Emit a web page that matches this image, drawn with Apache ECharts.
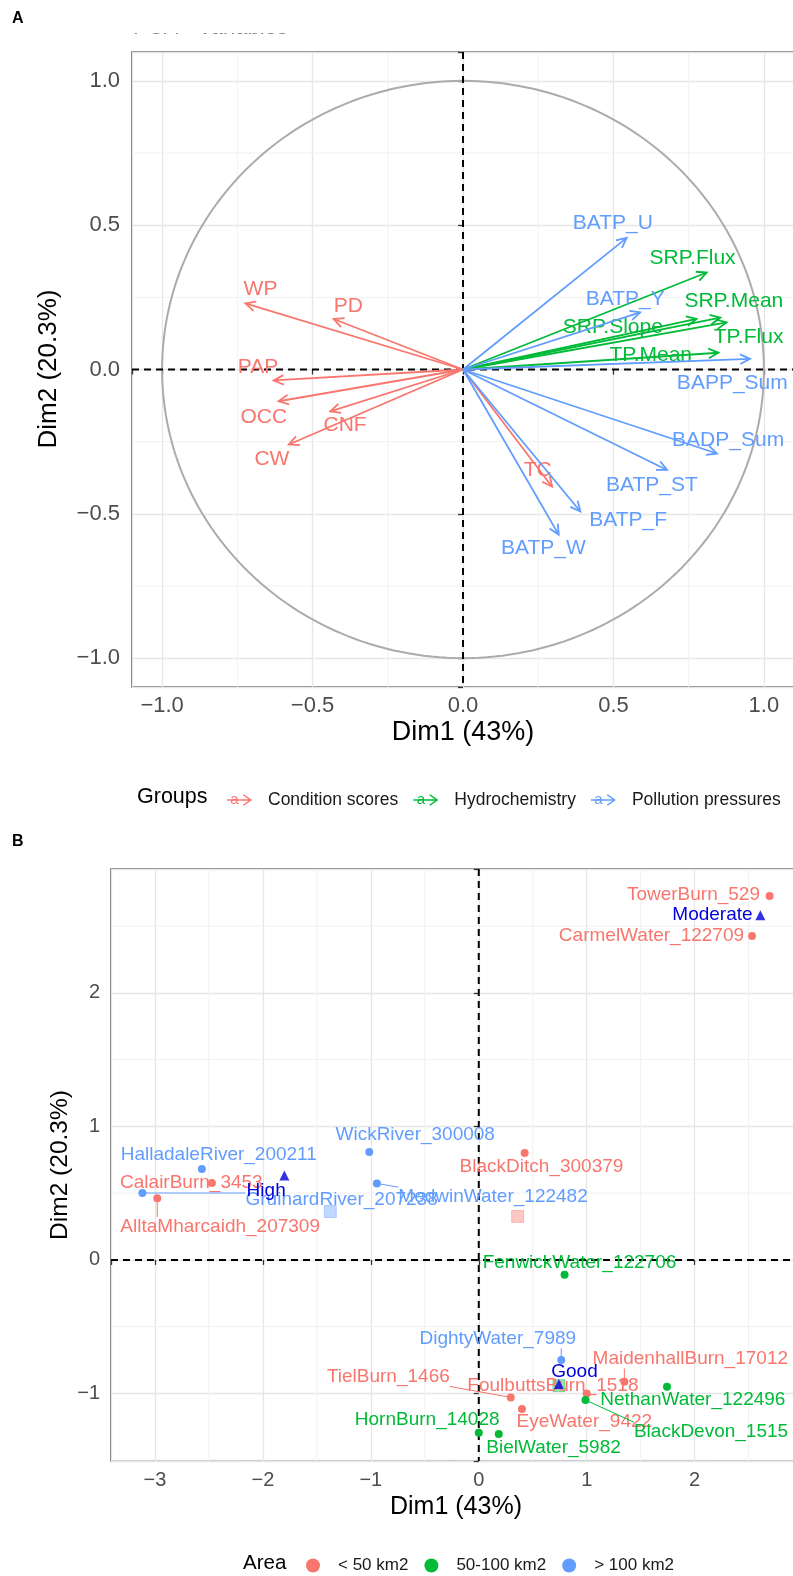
<!DOCTYPE html>
<html>
<head>
<meta charset="utf-8">
<title>PCA biplots</title>
<script src="https://cdn.jsdelivr.net/npm/echarts@6/dist/echarts.min.js"></script>
<style>
  html, body { margin: 0; padding: 0; background: #fff; }
  #chart { width: 793px; height: 1576px; }
</style>
</head>
<body>
<div id="chart"></div>
<script>
// ---------- panel A : variables ----------
var groupNames = ['Condition scores', 'Hydrochemistry', 'Pollution pressures'];
var varNames = ['WP', 'PD', 'PAP', 'OCC', 'CNF', 'CW', 'TC',
                'SRP.Flux', 'SRP.Mean', 'SRP.Slope', 'TP.Flux', 'TP.Mean',
                'BATP_U', 'BATP_Y', 'BAPP_Sum', 'BADP_Sum', 'BATP_ST', 'BATP_F', 'BATP_W'];
var varGroup = [0, 0, 0, 0, 0, 0, 0, 1, 1, 1, 1, 1, 2, 2, 2, 2, 2, 2, 2];
var varDim1 = [-0.723, -0.43, -0.629, -0.613, -0.441, -0.579, 0.296,
               0.81, 0.855, 0.776, 0.876, 0.849,
               0.544, 0.589, 0.954, 0.844, 0.678, 0.39, 0.318];
var varDim2 = [0.229, 0.175, -0.038, -0.11, -0.145, -0.26, -0.406,
               0.336, 0.18, 0.175, 0.163, 0.058,
               0.456, 0.198, 0.037, -0.291, -0.348, -0.492, -0.572];
// where the repelled labels sit, in axis units
var varLabDim1 = [-0.673, -0.381, -0.681, -0.662, -0.392, -0.635, 0.248,
                  0.763, 0.9, 0.498, 0.949, 0.624,
                  0.498, 0.539, 0.895, 0.881, 0.628, 0.549, 0.267];
var varLabDim2 = [0.278, 0.221, 0.008, -0.164, -0.193, -0.311, -0.348,
                  0.387, 0.238, 0.146, 0.111, 0.048,
                  0.508, 0.244, -0.048, -0.245, -0.4, -0.521, -0.618];

// ---------- panel B : sites ----------
var areaNames = ['< 50 km2', '50-100 km2', '> 100 km2'];
var siteNames = ['TowerBurn_529', 'CarmelWater_122709', 'CalairBurn_3453', 'AlltaMharcaidh_207309',
                 'BlackDitch_300379', 'TielBurn_1466', 'FoulbuttsBurn_1518', 'EyeWater_9422', 'MaidenhallBurn_17012',
                 'FenwickWater_122706', 'NethanWater_122496', 'BlackDevon_1515', 'HornBurn_14028', 'BielWater_5982',
                 'HalladaleRiver_200211', 'GruinardRiver_207238', 'WickRiver_300008', 'MedwinWater_122482', 'DightyWater_7989'];
var siteArea = [0, 0, 0, 0, 0, 0, 0, 0, 0, 1, 1, 1, 1, 1, 2, 2, 2, 2, 2];
var siteDim1 = [2.695, 2.532, -2.473, -2.979, 0.425, 0.296, 1.0, 0.40, 1.349,
                0.795, 1.744, 0.989, 0.0, 0.185,
                -2.566, -3.117, -1.015, -0.944, 0.764];
var siteDim2 = [2.727, 2.426, 0.576, 0.461, 0.80, -1.03, -1.0, -1.117, -0.912,
                -0.112, -0.95, -1.05, -1.295, -1.305,
                0.681, 0.501, 0.808, 0.573, -0.75];
var siteLabDim1 = [1.989, 1.60, -2.663, -2.396, 0.581, -0.838, 0.687, 0.978, 1.96,
                   0.933, 1.983, 2.152, -0.478, 0.693,
                   -2.409, -1.271, -0.589, 0.132, 0.176];
var siteLabDim2 = [2.736, 2.429, 0.579, 0.25, 0.695, -0.877, -0.945, -1.212, -0.742,
                   -0.022, -1.05, -1.287, -1.199, -1.409,
                   0.787, 0.45, 0.937, 0.474, -0.592];

var qualNames = ['High', 'Moderate', 'Good'];
var qualDim1 = [-1.801, 2.609, 0.742];
var qualDim2 = [0.633, 2.583, -0.93];
var qualLabDim1 = [-1.97, 2.165, 0.887];
var qualLabDim2 = [0.517, 2.586, -0.837];

var colors = ['#F8766D', '#00BA38', '#619CFF'];
var QUAL = '#0000DD';
var FONT = '"Liberation Sans", Arial, Helvetica, sans-serif';

var measureCtx = document.createElement('canvas').getContext('2d');
function textWidth(txt, size) {
  measureCtx.font = size + 'px ' + FONT;
  return measureCtx.measureText(txt).width;
}

// ggplot-like 5% expansion
function expand(lo, hi) {
  var d = (hi - lo) * 0.05;
  return [lo - d, hi + d];
}
var xA = expand(-1, 1), yA = expand(-1, 1);
var xB = expand(Math.min.apply(null, siteDim1), Math.max.apply(null, siteDim1));
var yB = expand(Math.min.apply(null, siteDim2), Math.max.apply(null, siteDim2));

function halfSteps(range, step) {
  var out = [];
  for (var k = Math.floor(range[0] / step) - 1; k * step < range[1] + step; k++) {
    var v = k * step + step / 2;
    if (v > range[0] && v < range[1]) out.push(v);
  }
  return out;
}

function groupMean(vals, g) {
  var s = 0, n = 0;
  siteArea.forEach(function (a, i) { if (a === g) { s += vals[i]; n++; } });
  return s / n;
}

function tickFmt(step, digits) {
  return function (v) {
    var r = v / step;
    if (Math.abs(r - Math.round(r)) > 1e-6) return '';
    return (v < -1e-9 ? '\u2212' : '') + Math.abs(v).toFixed(digits);
  };
}

function valueAxis(gi, range, splitNumber, fmt, size, margin) {
  return {
    type: 'value', gridIndex: gi, min: range[0], max: range[1], splitNumber: splitNumber,
    axisLine: { show: false },
    axisTick: { show: true, length: 5, lineStyle: { color: '#333', width: 1.3 } },
    axisLabel: { color: '#4d4d4d', fontSize: size, fontFamily: FONT, margin: margin, formatter: fmt },
    splitLine: { show: true, lineStyle: { color: '#e6e6e6', width: 1.3 } }
  };
}

// background guides: minor grid, dashed zero lines, optional unit circle
function frameItem(xr, yr, step, circle) {
  return function (params, api) {
    var cs = params.coordSys;
    var kids = [];
    halfSteps(xr, step).forEach(function (v) {
      var p = api.coord([v, 0]);
      kids.push({ type: 'line', shape: { x1: p[0], y1: cs.y, x2: p[0], y2: cs.y + cs.height },
                  style: { stroke: '#f1f1f1', lineWidth: 1 } });
    });
    halfSteps(yr, step).forEach(function (v) {
      var p = api.coord([0, v]);
      kids.push({ type: 'line', shape: { x1: cs.x, y1: p[1], x2: cs.x + cs.width, y2: p[1] },
                  style: { stroke: '#f1f1f1', lineWidth: 1 } });
    });
    if (circle) {
      var pts = [];
      for (var k = 0; k <= 240; k++) {
        var t = k / 240 * Math.PI * 2;
        pts.push(api.coord([Math.cos(t), Math.sin(t)]));
      }
      kids.push({ type: 'polyline', shape: { points: pts }, style: { stroke: '#ababab', lineWidth: 2, fill: 'none' } });
    }
    var o = api.coord([0, 0]);
    kids.push({ type: 'line', shape: { x1: o[0], y1: cs.y, x2: o[0], y2: cs.y + cs.height },
                style: { stroke: '#000', lineWidth: 2, lineDash: [7, 5] } });
    kids.push({ type: 'line', shape: { x1: cs.x, y1: o[1], x2: cs.x + cs.width, y2: o[1] },
                style: { stroke: '#000', lineWidth: 2, lineDash: [7, 5] } });
    return { type: 'group', children: kids };
  };
}

function arrowItem(params, api) {
  var i = api.value(4);
  var o = api.coord([0, 0]);
  var t = api.coord([api.value(0), api.value(1)]);
  var l = api.coord([api.value(2), api.value(3)]);
  var ang = Math.atan2(t[1] - o[1], t[0] - o[0]);
  var hl = 11, ha = Math.PI / 7;
  var a1 = [t[0] - hl * Math.cos(ang - ha), t[1] - hl * Math.sin(ang - ha)];
  var a2 = [t[0] - hl * Math.cos(ang + ha), t[1] - hl * Math.sin(ang + ha)];
  var color = api.visual('color');
  return {
    type: 'group',
    children: [
      { type: 'line', shape: { x1: o[0], y1: o[1], x2: t[0], y2: t[1] }, style: { stroke: color, lineWidth: 1.8 } },
      { type: 'polyline', shape: { points: [a1, t, a2] }, style: { stroke: color, lineWidth: 1.8, fill: 'none' } },
      { type: 'text', x: l[0], y: l[1],
        style: { text: varNames[i], fill: color, fontSize: 21, fontFamily: FONT, align: 'center', verticalAlign: 'middle' } }
    ]
  };
}

// repelled text label, with a leader segment when it sits away from its point
function labelItem(names, size) {
  return function (params, api) {
    var i = api.value(4);
    var p = api.coord([api.value(0), api.value(1)]);
    var c = api.coord([api.value(2), api.value(3)]);
    var color = api.visual('color');
    var w = textWidth(names[i], size) / 2, h = size * 0.5;
    var qx = Math.max(c[0] - w, Math.min(p[0], c[0] + w));
    var qy = Math.max(c[1] - h, Math.min(p[1], c[1] + h));
    var kids = [];
    if (Math.sqrt((qx - p[0]) * (qx - p[0]) + (qy - p[1]) * (qy - p[1])) > 10.5) {
      kids.push({ type: 'line', shape: { x1: qx, y1: qy, x2: p[0], y2: p[1] }, style: { stroke: color, lineWidth: 1 } });
    }
    kids.push({ type: 'text', x: c[0], y: c[1],
                style: { text: names[i], fill: color, fontSize: size, fontFamily: FONT, align: 'center', verticalAlign: 'middle' } });
    return { type: 'group', children: kids };
  };
}

var series = [];

// panel A
series.push({
  type: 'custom', name: 'frameA', xAxisIndex: 0, yAxisIndex: 0, silent: true, z: 1,
  data: [[0, 0]], renderItem: frameItem(xA, yA, 0.5, true)
});
groupNames.forEach(function (g, gi) {
  var data = [];
  varNames.forEach(function (n, i) {
    if (varGroup[i] === gi) data.push([varDim1[i], varDim2[i], varLabDim1[i], varLabDim2[i], i]);
  });
  series.push({
    type: 'custom', name: g, xAxisIndex: 0, yAxisIndex: 0, z: 3, silent: true,
    itemStyle: { color: colors[gi] }, data: data, renderItem: arrowItem
  });
});

// panel B
series.push({
  type: 'custom', name: 'frameB', xAxisIndex: 1, yAxisIndex: 1, silent: true, z: 1,
  data: [[0, 0]], renderItem: frameItem(xB, yB, 1, false)
});
areaNames.forEach(function (a, gi) {
  var pts = [], labs = [];
  siteNames.forEach(function (n, i) {
    if (siteArea[i] !== gi) return;
    pts.push([siteDim1[i], siteDim2[i]]);
    labs.push([siteDim1[i], siteDim2[i], siteLabDim1[i], siteLabDim2[i], i]);
  });
  series.push({
    type: 'scatter', name: a, xAxisIndex: 1, yAxisIndex: 1, z: 3,
    symbol: 'circle', symbolSize: 8, itemStyle: { color: colors[gi], opacity: 1 }, data: pts
  });
  series.push({
    type: 'scatter', name: 'mean ' + a, xAxisIndex: 1, yAxisIndex: 1, z: 3,
    symbol: 'rect', symbolSize: 12,
    itemStyle: { color: colors[gi], opacity: 0.4, borderColor: colors[gi], borderWidth: 1 },
    data: [[groupMean(siteDim1, gi), groupMean(siteDim2, gi)]]
  });
  series.push({
    type: 'custom', name: 'labels ' + a, xAxisIndex: 1, yAxisIndex: 1, z: 4, silent: true,
    itemStyle: { color: colors[gi] }, data: labs, renderItem: labelItem(siteNames, 19)
  });
});
series.push({
  type: 'custom', name: 'quality labels', xAxisIndex: 1, yAxisIndex: 1, z: 5, silent: true,
  itemStyle: { color: QUAL },
  data: qualNames.map(function (n, i) { return [qualDim1[i], qualDim2[i], qualLabDim1[i], qualLabDim2[i], i]; }),
  renderItem: labelItem(qualNames, 19)
});
series.push({
  type: 'scatter', name: 'quality', xAxisIndex: 1, yAxisIndex: 1, z: 6,
  symbol: 'triangle', symbolSize: 10, itemStyle: { color: QUAL },
  data: qualNames.map(function (n, i) { return [qualDim1[i], qualDim2[i]]; })
});

var arrowIcon = 'path://M0,4.3L20,4.3L20,5.7L0,5.7Z M14.5,0L21.5,5L14.5,10L13.7,9L19.5,5L13.7,1Z';

// legend A layout, used to put the ggplot "a" glyph on each key
var LEG_A = { left: 222, top: 786, iconW: 25, pad: 11, gap: 15, size: 17.5 };
var keyGlyphs = [];
(function () {
  var x = LEG_A.left;
  groupNames.forEach(function (g, gi) {
    keyGlyphs.push({ type: 'text', x: x + LEG_A.iconW / 2, y: 800, z: 10,
      style: { text: 'a', fill: colors[gi], fontSize: 15, fontFamily: FONT, align: 'center', verticalAlign: 'middle' } });
    x += LEG_A.iconW + 5 + LEG_A.pad + textWidth(g, LEG_A.size) + LEG_A.gap;
  });
})();

var option = {
  animation: false,
  backgroundColor: '#fff',
  textStyle: { fontFamily: FONT },
  grid: [
    { left: 132, top: 52, width: 662, height: 635, show: true, borderColor: '#5a5a5a', borderWidth: 1.6,
      backgroundColor: '#fff', containLabel: false, outerBoundsMode: 'none' },
    { left: 111, top: 869, width: 690, height: 592, show: true, borderColor: '#5a5a5a', borderWidth: 1.6,
      backgroundColor: '#fff', containLabel: false, outerBoundsMode: 'none' }
  ],
  xAxis: [
    valueAxis(0, xA, 4, tickFmt(0.5, 1), 22, 8),
    valueAxis(1, xB, 5, tickFmt(1, 0), 20, 9)
  ],
  yAxis: [
    valueAxis(0, yA, 4, tickFmt(0.5, 1), 22, 12),
    valueAxis(1, yB, 5, tickFmt(1, 0), 20, 11)
  ],
  legend: [
    {
      left: LEG_A.left, top: LEG_A.top, itemWidth: LEG_A.iconW, itemHeight: 12, itemGap: LEG_A.gap, selectedMode: false,
      data: groupNames.map(function (g) { return { name: g, icon: arrowIcon }; }),
      textStyle: { fontSize: LEG_A.size, color: '#1a1a1a', fontFamily: FONT, padding: [0, 0, 0, LEG_A.pad] }
    },
    {
      left: 301, top: 1552, itemWidth: 14, itemHeight: 14, itemGap: 16, selectedMode: false,
      data: areaNames.map(function (a) { return { name: a, icon: 'circle' }; }),
      textStyle: { fontSize: 17, color: '#1a1a1a', fontFamily: FONT, padding: [0, 0, 0, 13] }
    }
  ],
  graphic: [
    { type: 'text', x: 133, y: 39, z: 1,
      style: { text: 'PCA - Variables', fill: '#888', fontSize: 22, fontFamily: FONT, align: 'left', verticalAlign: 'bottom' } },
    { type: 'rect', shape: { x: 125, y: 0, width: 260, height: 33 }, z: 100, style: { fill: '#fff' } },
    { type: 'text', x: 12, y: 19, z: 3,
      style: { text: 'A', fill: '#000', fontSize: 16, fontWeight: 'bold', fontFamily: FONT, align: 'left', verticalAlign: 'middle' } },
    { type: 'text', x: 12, y: 842, z: 3,
      style: { text: 'B', fill: '#000', fontSize: 16, fontWeight: 'bold', fontFamily: FONT, align: 'left', verticalAlign: 'middle' } },
    { type: 'text', x: 463, y: 733,
      style: { text: 'Dim1 (43%)', fill: '#000', fontSize: 27, fontFamily: FONT, align: 'center', verticalAlign: 'middle' } },
    { type: 'text', x: 49, y: 369, rotation: Math.PI / 2,
      style: { text: 'Dim2 (20.3%)', fill: '#000', fontSize: 26, fontFamily: FONT, align: 'center', verticalAlign: 'middle' } },
    { type: 'text', x: 456, y: 1507,
      style: { text: 'Dim1 (43%)', fill: '#000', fontSize: 25, fontFamily: FONT, align: 'center', verticalAlign: 'middle' } },
    { type: 'text', x: 60, y: 1165, rotation: Math.PI / 2,
      style: { text: 'Dim2 (20.3%)', fill: '#000', fontSize: 24.5, fontFamily: FONT, align: 'center', verticalAlign: 'middle' } },
    { type: 'text', x: 137, y: 797,
      style: { text: 'Groups', fill: '#000', fontSize: 21.5, fontFamily: FONT, align: 'left', verticalAlign: 'middle' } },
    { type: 'text', x: 243, y: 1563,
      style: { text: 'Area', fill: '#000', fontSize: 20.5, fontFamily: FONT, align: 'left', verticalAlign: 'middle' } }
  ].concat(keyGlyphs),
  series: series
};

var chart = echarts.init(document.getElementById('chart'));
chart.setOption(option);
</script>
</body>
</html>
